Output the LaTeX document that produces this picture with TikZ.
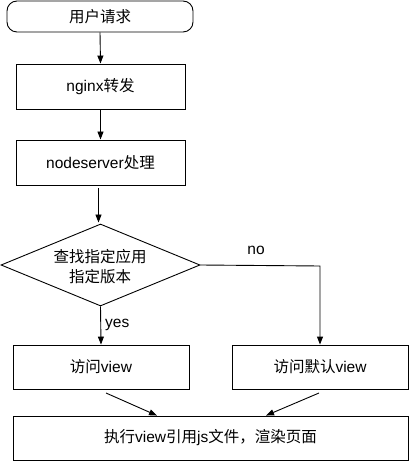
\documentclass[tikz,border=0pt]{standalone}
\usepackage{fontspec}
\setmainfont{Liberation Sans}
\newfontfamily\cjk{Noto Sans CJK SC}
\usetikzlibrary{arrows.meta,shapes.geometric}
\begin{document}
\begin{tikzpicture}[x=1bp,y=-1bp,
  every node/.style={font=\fontsize{15.5bp}{19bp}\selectfont},
  box/.style={draw=black,line width=0.9bp,minimum height=44bp,inner sep=0pt},
  arr/.style={draw=black,line width=0.9bp,-{Triangle[length=8bp,width=6bp]}},
  lbl/.style={inner sep=1bp}]
\useasboundingbox (0,0) rectangle (409,461);
\node[box,rounded corners=10bp,minimum width=186bp,minimum height=31bp] (start) at (100,16.5) {{\cjk 用户请求}};
\node[box,minimum width=169bp,minimum height=45bp] (nginx) at (100.5,86.5) {nginx{\cjk 转发}};
\node[box,minimum width=169bp,minimum height=45bp] (node) at (100.5,162.5) {nodeserver{\cjk 处理}};
\node[draw=black,line width=0.9bp,diamond,minimum width=199bp,minimum height=82bp,inner sep=0pt,aspect=2.4] (dec) at (100.5,265) {};
\node[align=center,font=\fontsize{15.5bp}{20bp}\selectfont\cjk] (dectext) at (100,267) {查找指定应用\\指定版本};
\node[box,minimum width=176bp,minimum height=44bp] (view) at (101,367) {{\cjk 访问}view};
\node[box,minimum width=176bp,minimum height=44bp] (defview) at (320,367) {{\cjk 访问默认}view};
\node[box,minimum width=395bp,minimum height=44bp] (exec) at (210.5,438) {{\cjk 执行}view{\cjk 引用}js{\cjk 文件，渲染页面}};
\coordinate (noturn) at (320,266);
\draw[arr] (start.south) -- (nginx.north);
\draw[arr] (nginx.south) -- (node.north);
\draw[arr] ([xshift=-2bp,yshift=-3bp]node.south) -- ([xshift=-2bp,yshift=1bp]dec.north);
\draw[arr] (dec.south) -- node[lbl,right,xshift=3bp,yshift=1bp] {yes} (view.north);
\draw[arr] (dec.east) -- (noturn) -- (defview.north);
\node[lbl] (nolabel) at (256,250) {no};
\coordinate (a1) at (106,393);
\coordinate (a2) at (319,393);
\draw[arr] (a1) -- (exec.north -| 157,0);
\draw[arr] (a2) -- (exec.north -| 266,0);
\end{tikzpicture}
\end{document}
